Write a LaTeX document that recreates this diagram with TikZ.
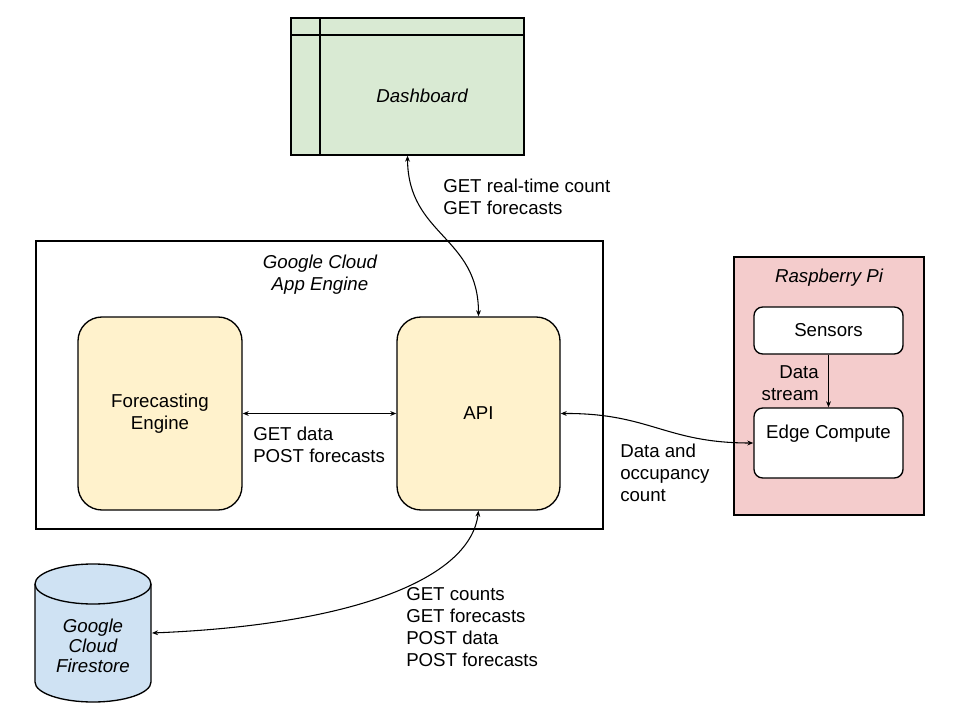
\documentclass[tikz,border=0pt]{standalone}
\usepackage{fontspec}
\setmainfont{Liberation Sans}
\usetikzlibrary{arrows.meta}
\definecolor{dashgreen}{HTML}{D9EAD3}
\definecolor{engyellow}{HTML}{FFF2CC}
\definecolor{pipink}{HTML}{F4CCCC}
\definecolor{fsblue}{HTML}{CFE2F3}
\begin{document}
\begin{tikzpicture}[x=0.75pt,y=-0.75pt,
  font=\fontsize{14}{16.5}\selectfont,
  box/.style={draw=black,line width=1pt,inner sep=0pt},
  rbox/.style={box,rounded corners=18pt},
  sbox/.style={box,rounded corners=6.5pt,fill=white},
  link/.style={line width=0.8pt,{Stealth[length=4.5pt,width=3.6pt]}-{Stealth[length=4.5pt,width=3.6pt]}},
  onelink/.style={line width=0.8pt,-{Stealth[length=4.5pt,width=3.6pt]}},
  lbl/.style={inner sep=0pt,align=left,anchor=base west},
  title/.style={inner sep=0pt,font=\fontsize{14}{16.5}\selectfont\itshape,align=center}]

\useasboundingbox (0,0) rectangle (960,720);
\fill[white] (0,0) rectangle (960,720);

% Dashboard
\node[box,fill=dashgreen,minimum width=174.75pt,minimum height=102.75pt] (dash) at (407.5,86.5) {};
\draw[line width=1pt] (320,18) -- (320,155);
\draw[line width=1pt] (291,35) -- (524,35);
\node[title] (dashtxt) at (422,96) {Dashboard};

% Google Cloud App Engine container
\node[box,minimum width=425.25pt,minimum height=216pt] (gcp) at (319.5,385) {};
\node[title,anchor=base] (gcptxt) at (320,291) {Google Cloud\\App Engine};

% Forecasting engine and API
\node[rbox,fill=engyellow,minimum width=123pt,minimum height=144.75pt,align=center] (fce) at (160,413.5) {Forecasting\\Engine};
\node[rbox,fill=engyellow,minimum width=122.25pt,minimum height=144.75pt] (api) at (478.5,413.5) {API};

% Raspberry Pi
\node[box,fill=pipink,minimum width=142.5pt,minimum height=193.5pt] (rpi) at (829,386) {};
\node[title,anchor=base] (rpitxt) at (829,282) {Raspberry Pi};
\node[sbox,minimum width=111.75pt,minimum height=35.25pt] (sens) at (828.5,330.5) {Sensors};
\node[sbox,minimum width=111.75pt,minimum height=52.5pt] (edge) at (828.5,443) {};
\node[inner sep=0pt,anchor=base] (edgetxt) at (828.5,438) {Edge Compute};

% Firestore cylinder
\draw[line width=1pt,fill=fsblue] (35,584) -- (35,682)
  arc[start angle=180,end angle=0,x radius=58,y radius=20] -- (151,584)
  arc[start angle=360,end angle=180,x radius=58,y radius=20] -- cycle;
\draw[line width=1pt] (35,584) arc[start angle=180,end angle=0,x radius=58,y radius=20];
\node[title,font=\fontsize{14}{15}\selectfont\itshape] (fstxt) at (93,646) {Google\\Cloud\\Firestore};
\coordinate (fsr) at (152,633);

% Connectors
\draw[link] (dash.south) .. controls (408,236) and (478.5,236) .. (api.north);
\draw[link] (fce.east) -- (api.west);
\draw[link] (api.east) .. controls (650,413) and (665,443) .. (edge.west);
\draw[link] (api.south) .. controls (470,580) and (350,625) .. (fsr);
\draw[onelink] (sens.south) -- (edge.north);

% Labels
\node[lbl] (l1) at (443,215) {GET real-time count\\GET forecasts};
\node[lbl] (l2) at (253,462) {GET data\\POST forecasts};
\node[lbl] (l3) at (620,501) {Data and\\occupancy\\count};
\node[lbl] (l4) at (406,666) {GET counts\\GET forecasts\\POST data\\POST forecasts};
\node[inner sep=0pt,align=right,anchor=base east] (l5) at (819,400) {Data\\stream};
\end{tikzpicture}
\end{document}
